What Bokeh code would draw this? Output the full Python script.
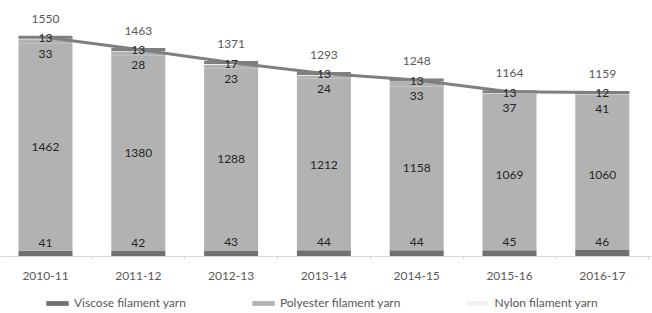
from bokeh.plotting import figure
from bokeh.models import (ColumnDataSource, Range1d, FixedTicker, Legend, LegendItem, LabelSet)
from bokeh.core.properties import value
from bokeh.embed import file_html
from bokeh.resources import INLINE

years = ["2010-11", "2011-12", "2012-13", "2013-14", "2014-15", "2015-16", "2016-17"]
viscose = [41, 42, 43, 44, 44, 45, 46]
polyester = [1462, 1380, 1288, 1212, 1158, 1069, 1060]
other = [33, 28, 23, 24, 33, 37, 41]
nylon = [13, 13, 17, 13, 13, 13, 12]
total = [1550, 1463, 1371, 1293, 1248, 1164, 1159]

xs = list(range(len(years)))
c1 = [v / 2 for v in viscose]
c2 = [v + p / 2 for v, p in zip(viscose, polyester)]
c3 = [v + p + o / 2 for v, p, o in zip(viscose, polyester, other)]
c4 = [v + p + o + n / 2 for v, p, o, n in zip(viscose, polyester, other, nylon)]

src = ColumnDataSource(dict(x=xs, viscose=viscose, polyester=polyester, other=other,
                            nylon=nylon, total=total, c1=c1, c2=c2, c3=c3, c4=c4,
                            l1=[str(v) for v in viscose], l2=[str(v) for v in polyester],
                            l3=[str(v) for v in other], l4=[str(v) for v in nylon],
                            lt=[str(v) for v in total]))

W, H = 652, 313
unit = 92.8
xstart = -45 / unit
ys = (256 - 36.7) / 1550.0
p = figure(width=W, height=H, output_backend="svg", toolbar_location=None,
           x_range=Range1d(xstart, xstart + W / unit),
           y_range=Range1d(-(H - 256) / ys, 256 / ys),
           min_border_left=0, min_border_right=0, min_border_top=0, min_border_bottom=0)
p.outline_line_color = None
p.grid.visible = False
p.yaxis.visible = False
p.background_fill_color = "white"
p.border_fill_color = "white"

bw = 54 / unit
rs = p.vbar_stack(["viscose", "polyester", "other", "nylon"], x="x", width=bw, source=src,
                  color=["#707070", "#b2b2b2", "#b2b2b2", "#f2f2f2"], line_color=None)

p.line("x", "total", source=src, line_width=3, line_color="#7f7f7f")
p.rect("x", "total", width=bw, height=3, height_units="screen", source=src,
       fill_color="#7f7f7f", line_color=None)

font = "Lato"
def labels(col, txt, off, color="#262626"):
    ls = LabelSet(x="x", y=col, text=txt, source=src, y_offset=off, text_align="center",
                  text_baseline="middle", text_font=value(font), text_font_size=value("12px"),
                  text_color=color)
    p.add_layout(ls)

labels("c1", "l1", 11)
labels("c2", "l2", 0)
labels("c3", "l3", -12)
labels("c4", "l4", 0)
labels("total", "lt", 18.5, "#595959")

ax = p.xaxis[0]
ax.fixed_location = 0
ax.ticker = FixedTicker(ticks=xs, minor_ticks=[i - 0.5 for i in range(len(years) + 1)])
ax.major_label_overrides = {i: y for i, y in zip(xs, years)}
ax.axis_line_color = "#d9d9d9"
ax.major_tick_line_color = None
ax.major_tick_out = 0
ax.major_tick_in = 0
ax.minor_tick_line_color = "#d9d9d9"
ax.minor_tick_out = 3
ax.minor_tick_in = 0
ax.major_label_standoff = 12
ax.major_label_text_font = font
ax.major_label_text_font_size = "12px"
ax.major_label_text_color = "#595959"

legend = Legend(items=[LegendItem(label="Viscose filament yarn", renderers=[rs[0]]),
                       LegendItem(label="Polyester filament yarn", renderers=[rs[1]]),
                       LegendItem(label="Nylon filament yarn", renderers=[rs[3]])],
                orientation="horizontal", location=(43, 3), spacing=63,
                glyph_width=28, glyph_height=6, label_height=14, label_standoff=3,
                label_text_font=font, label_text_font_size="12px", label_text_color="#595959",
                margin=0, padding=2, border_line_color=None, background_fill_alpha=0)
p.add_layout(legend)

open("out.html", "w").write(file_html(p, INLINE))
